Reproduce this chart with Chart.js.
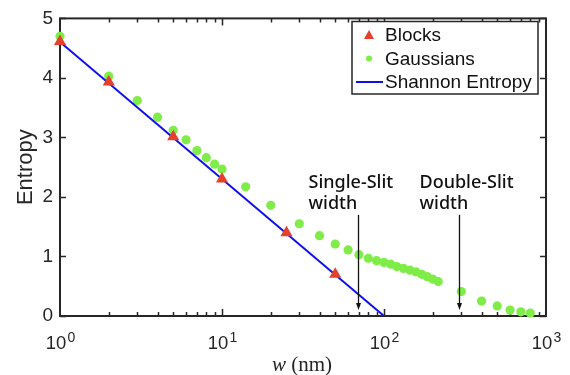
<!DOCTYPE html>
<html>
<head>
<meta charset="utf-8">
<script src="https://cdn.jsdelivr.net/npm/chart.js@4/dist/chart.umd.min.js"></script>
<style>
  html, body { margin: 0; padding: 0; background: #fff; }
  #entropyChart { display: block; }
</style>
</head>
<body>
<canvas id="entropyChart" width="570" height="375"></canvas>
<script>
// values
const blocksW = [1, 2, 5, 10, 25, 50];
const blocksS = [4.61, 3.93, 3.01, 2.30, 1.40, 0.70];

const gaussW = [1, 2, 3, 4, 5, 6, 7, 8, 9, 10, 14, 20, 30, 40, 50, 60,
    70, 80, 90, 100, 110, 120, 132, 145, 158, 171, 185, 200, 216,
    300, 400, 500, 600, 700, 800];
const gaussS = [4.70, 4.03, 3.62, 3.34, 3.12, 2.96, 2.78, 2.66, 2.55, 2.47, 2.17, 1.86, 1.55, 1.35, 1.21, 1.11,
    1.03, 0.97, 0.93, 0.90, 0.87, 0.83, 0.80, 0.77, 0.74, 0.70, 0.66, 0.62, 0.58,
    0.41, 0.25, 0.17, 0.10, 0.07, 0.05];

const shannonW = [1, 100];
const shannonS = [4.605, 0];

const yTicks = [0, 1, 2, 3, 4, 5];
const xDecades = [0, 1, 2, 3];

const slitW = [69, 292];
const slitLabels = [["Single-Slit", "width"], ["Double-Slit", "width"]];
const arrowTop = 1.70;
const arrowTip = 0.10;

const legendLabels = ["Blocks", "Gaussians", "Shannon Entropy"];

const AXIS = "#262626";
const RED = "#e4402c";
const GREEN = "#7fec48";
const BLUE = "#1010ee";
const SANS = "'Liberation Sans', Arial, sans-serif";
const SERIF = "'Liberation Serif', 'Times New Roman', serif";

function pts(xs, ys) {
    return xs.map((x, i) => ({ x: x, y: ys[i] }));
}

const frame = {
    id: "frame",
    beforeDatasetsDraw(chart) {
        const { ctx, chartArea: a, scales } = chart;
        const xs = scales.x, ys = scales.y;
        ctx.save();
        ctx.strokeStyle = AXIS;
        ctx.lineWidth = 2;
        ctx.strokeRect(a.left, a.top, a.right - a.left, a.bottom - a.top);

        ctx.lineWidth = 1.5;
        ctx.beginPath();
        // log ticks top and bottom
        for (let d = 0; d < 3; d++) {
            for (let m = 1; m <= 9; m++) {
                if (d === 0 && m === 1) continue;
                const px = Math.round(xs.getPixelForValue(m * Math.pow(10, d))) + 0.5;
                const len = m === 1 ? 7 : 4;
                ctx.moveTo(px, a.bottom);
                ctx.lineTo(px, a.bottom - len);
                ctx.moveTo(px, a.top);
                ctx.lineTo(px, a.top + len);
            }
        }
        yTicks.forEach(v => {
            const py = Math.round(ys.getPixelForValue(v)) + 0.5;
            ctx.moveTo(a.left, py);
            ctx.lineTo(a.left + 6, py);
            ctx.moveTo(a.right, py);
            ctx.lineTo(a.right - 6, py);
        });
        ctx.stroke();

        // x tick labels with superscripts
        ctx.fillStyle = AXIS;
        ctx.textBaseline = "alphabetic";
        xDecades.forEach(p => {
            const px = xs.getPixelForValue(Math.pow(10, p));
            ctx.font = "18.5px " + SANS;
            const wBase = ctx.measureText("10").width;
            ctx.font = "14px " + SANS;
            const wSup = ctx.measureText(String(p)).width;
            const left = px - (wBase + wSup) / 2;
            ctx.font = "18.5px " + SANS;
            ctx.fillText("10", left, a.bottom + 33);
            ctx.font = "14px " + SANS;
            ctx.fillText(String(p), left + wBase + 1, a.bottom + 26);
        });

        // x title: italic w (nm)
        ctx.font = "italic 21px " + SERIF;
        const wW = ctx.measureText("w").width;
        ctx.font = "21px " + SERIF;
        const wRest = ctx.measureText(" (nm)").width;
        const cx = (a.left + a.right) / 2 - 1;
        const tx = cx - (wW + wRest) / 2;
        ctx.font = "italic 21px " + SERIF;
        ctx.fillText("w", tx, a.bottom + 55);
        ctx.font = "21px " + SERIF;
        ctx.fillText(" (nm)", tx + wW, a.bottom + 55);

        // y title
        ctx.save();
        ctx.translate(26, (a.top + a.bottom) / 2);
        ctx.rotate(-Math.PI / 2);
        ctx.textAlign = "center";
        ctx.textBaseline = "middle";
        ctx.font = "22px " + SANS;
        ctx.fillText("Entropy", 0, 0);
        ctx.restore();
        ctx.restore();
    },
    afterDatasetsDraw(chart) {
        const { ctx, scales } = chart;
        const xs = scales.x, ys = scales.y;
        ctx.save();

        // slit annotations
        ctx.strokeStyle = "#111";
        ctx.fillStyle = "#111";
        slitW.forEach((w, i) => {
            const px = Math.round(xs.getPixelForValue(w)) + 0.5;
            const y0 = ys.getPixelForValue(arrowTop);
            const y1 = ys.getPixelForValue(arrowTip);
            ctx.lineWidth = 1.3;
            ctx.beginPath();
            ctx.moveTo(px, y0);
            ctx.lineTo(px, y1 - 5);
            ctx.stroke();
            ctx.beginPath();
            ctx.moveTo(px, y1);
            ctx.lineTo(px - 2.5, y1 - 7);
            ctx.lineTo(px + 2.5, y1 - 7);
            ctx.closePath();
            ctx.fill();

            ctx.font = "500 18px 'Noto Sans', 'Open Sans', sans-serif";
            ctx.textBaseline = "alphabetic";
            const dx = i === 0 ? -50 : -40;
            ctx.fillText(slitLabels[i][0], px + dx, y0 - 27);
            ctx.fillText(slitLabels[i][1], px + dx, y0 - 6);
        });

        // legend box
        const bx = 352, by = 21.5, bw = 186, bh = 72.5;
        ctx.fillStyle = "#fff";
        ctx.fillRect(bx, by, bw, bh);
        ctx.strokeStyle = AXIS;
        ctx.lineWidth = 1.5;
        ctx.strokeRect(bx, by, bw, bh);

        const rows = [35, 58.5, 82];
        const mx = 369;
        ctx.fillStyle = RED;
        ctx.beginPath();
        ctx.moveTo(mx, rows[0] - 5);
        ctx.lineTo(mx - 5, rows[0] + 4);
        ctx.lineTo(mx + 5, rows[0] + 4);
        ctx.closePath();
        ctx.fill();

        ctx.fillStyle = GREEN;
        ctx.beginPath();
        ctx.arc(mx, rows[1], 3, 0, Math.PI * 2);
        ctx.fill();

        ctx.strokeStyle = BLUE;
        ctx.lineWidth = 2;
        ctx.beginPath();
        ctx.moveTo(356, rows[2]);
        ctx.lineTo(383, rows[2]);
        ctx.stroke();

        ctx.fillStyle = "#111";
        ctx.font = "19px " + SANS;
        ctx.textBaseline = "middle";
        legendLabels.forEach((t, i) => ctx.fillText(t, 385, rows[i] + 1));
        ctx.restore();
    }
};

new Chart(document.getElementById("entropyChart").getContext("2d"), {
    type: "scatter",
    data: {
        datasets: [{
            label: "Blocks",
            data: pts(blocksW, blocksS),
            pointStyle: "triangle",
            pointRadius: 7,
            backgroundColor: RED,
            borderColor: RED,
            borderWidth: 0,
            clip: false,
            order: 1
        }, {
            label: "Shannon Entropy",
            data: pts(shannonW, shannonS),
            showLine: true,
            borderColor: BLUE,
            borderWidth: 2,
            pointRadius: 0,
            clip: false,
            order: 2
        }, {
            label: "Gaussians",
            data: pts(gaussW, gaussS),
            pointRadius: 4.6,
            backgroundColor: GREEN,
            borderColor: GREEN,
            borderWidth: 0,
            clip: false,
            order: 3
        }]
    },
    options: {
        responsive: false,
        animation: false,
        layout: {
            padding: { left: 0, top: 12, right: 24, bottom: 0 }
        },
        plugins: {
            legend: { display: false },
            tooltip: { enabled: false }
        },
        scales: {
            x: {
                type: "logarithmic",
                min: 1,
                max: 1000,
                grid: { display: false, drawTicks: false },
                border: { display: false },
                ticks: { display: false },
                afterFit(scale) { scale.height = 59; }
            },
            y: {
                min: 0,
                max: 5,
                grid: { display: false, drawTicks: false },
                border: { display: false },
                ticks: {
                    stepSize: 1,
                    padding: 7,
                    color: AXIS,
                    font: { family: SANS, size: 19 }
                },
                afterFit(scale) { scale.width = 60; }
            }
        }
    },
    plugins: [frame]
});
</script>
</body>
</html>
